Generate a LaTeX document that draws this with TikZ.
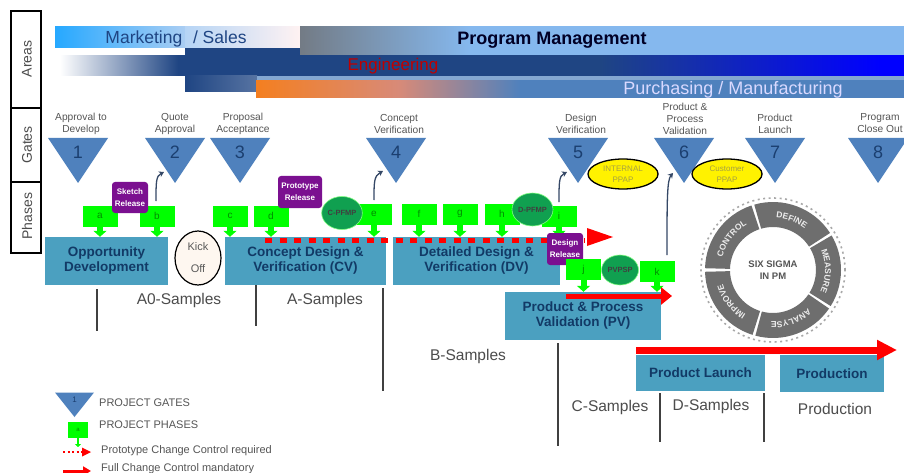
\documentclass[tikz,border=0pt]{standalone}
\usepackage{fontspec}
\setmainfont{Liberation Sans}
\usetikzlibrary{arrows.meta,shapes.geometric,decorations.text}
\definecolor{gatefill}{HTML}{4F81BD}
\definecolor{phasefill}{HTML}{4BA0C0}
\definecolor{gtxt}{HTML}{555555}
\definecolor{navy}{HTML}{1F4583}
\definecolor{ringgray}{HTML}{6E6E6E}
\definecolor{darknum}{HTML}{1B3F70}
\definecolor{pmblue}{HTML}{85B8EE}
\definecolor{pmgray}{HTML}{737B85}
\definecolor{ovalgreen}{HTML}{10A050}
\definecolor{purp}{HTML}{7B1090}
\definecolor{boxtext}{HTML}{123A66}
\definecolor{orangeA}{HTML}{F47F20}
\definecolor{orangeB}{HTML}{D88A78}
\definecolor{purewhite}{HTML}{FFFFFF}
\definecolor{pureblue}{HTML}{0000FF}
\pgfdeclarehorizontalshading{pmband}{100bp}{color(0bp)=(pmgray); color(25bp)=(pmgray); color(39bp)=(pmblue); color(100bp)=(pmblue)}
\pgfdeclarehorizontalshading{engband}{100bp}{color(0bp)=(purewhite); color(25bp)=(purewhite); color(32bp)=(navy); color(57bp)=(navy); color(73.6bp)=(pureblue); color(100bp)=(pureblue)}
\pgfdeclarehorizontalshading{purband}{100bp}{color(0bp)=(orangeA); color(25bp)=(orangeA); color(36bp)=(orangeB); color(45.4bp)=(gatefill); color(100bp)=(gatefill)}
\tikzset{
 gatenum/.style={font=\fontsize{18}{18}\selectfont,text=darknum,inner sep=0pt},
 gatelabel/.style={font=\fontsize{10.2}{12}\selectfont,text=gtxt,align=center,inner sep=0pt},
 phasebox/.style={fill=green,minimum width=35pt,minimum height=21pt,inner sep=0pt,font=\fontsize{10}{10}\selectfont,text=black!45!green},
 bluebox/.style={fill=phasefill,inner sep=0pt,align=center,font=\bfseries\fontsize{13.5}{15}\selectfont,text=boxtext},
 purplebox/.style={fill=purp,rounded corners=3pt,inner sep=0pt,align=center,text=white,font=\bfseries\fontsize{8}{12}\selectfont},
 greenoval/.style={ellipse,fill=ovalgreen,draw=green!50!white,line width=.6pt,inner sep=0pt,font=\bfseries\fontsize{7.5}{7.5}\selectfont,text=black!75},
 yellowoval/.style={ellipse,fill=yellow,draw=black,line width=1.3pt,inner sep=0pt,align=center,minimum width=70pt,minimum height=30pt,text=black!40!yellow,font=\fontsize{8}{11}\selectfont},
 samplabel/.style={font=\fontsize{15.5}{15.5}\selectfont,text=black!70,inner sep=0pt},
 phasedrop/.style={-{Triangle[length=6pt,width=13pt]},green,line width=6pt},
 vline/.style={black!75,line width=1.6pt},
 curvearrow/.style={-{Stealth[length=5pt,width=6pt]},draw=black!30!navy!70!gray,line width=1.3pt},
 redsolid/.style={-{Triangle[length=11pt,width=17pt]},red,line width=5pt},
 reddots/.style={red,line width=5pt,dash pattern=on 7pt off 7.5pt},
 legendtext/.style={font=\fontsize{11}{11}\selectfont,text=gtxt,anchor=west,inner sep=0pt},
 sidecell/.style={draw=black,line width=1.2pt,fill=white},
 sidetext/.style={rotate=90,font=\fontsize{14}{14}\selectfont,text=black!70,inner sep=0pt},
 ringfill/.style={fill=ringgray,draw=none},
}
\newcommand{\ringtext}[3]{\path[postaction={decorate,decoration={text along path,text align=center,text={|\bfseries\fontsize{8.5}{8.5}\selectfont\color{white!85!gray}|#3}}}]
 (#1:52pt) arc[start angle=#1,end angle=#2,radius=52pt];}
\newcommand{\ringseg}[2]{\fill[ringfill] (#1:68pt) arc[start angle=#1,end angle=#2,radius=68pt] -- (#2:43pt) arc[start angle=#2,end angle=#1,radius=43pt] -- cycle;}
\begin{document}
\begin{tikzpicture}[x=1pt,y=-1pt]
\useasboundingbox[fill=white] (0,0) rectangle (904,473);
% Side column
\draw[sidecell] (11,11) rectangle (41,108);
\draw[sidecell] (11,108) rectangle (41,182);
\draw[sidecell] (11,182) rectangle (41,253);
\node[sidetext] (areas) at (27,59) {Areas};
\node[sidetext] (gates) at (27,145) {Gates};
\node[sidetext] (phases) at (27,216) {Phases};
% Bars
\shade[shading=engband] (60,56) rectangle (904,76);
\fill[navy] (185,48) rectangle (300,56.5);
\shade[left color=navy,right color=navy!75!white] (185,76) rectangle (257,92);
\fill[gatefill!70!white] (257,76) rectangle (904,81);
\shade[shading=purband] (256,81) rectangle (904,98);
\shade[left color=cyan!60!blue!85!white,right color=pmblue!70!white] (55,27) rectangle (185,48);
\shade[left color=pmblue!60!white,right color=red!5!white] (185,27) rectangle (300,48);
\shade[shading=pmband] (300,27) rectangle (904,55);
\node[font=\fontsize{17.5}{17.5}\selectfont,text=navy,inner sep=0pt] (sales) at (176,39) {Marketing\,\, / Sales};
\node[font=\bfseries\fontsize{18}{18}\selectfont,text=black!85!blue,inner sep=0pt] (pm) at (552,40) {Program Management};
\node[font=\fontsize{17}{17}\selectfont,text=red!75!black,inner sep=0pt] (eng) at (393,66) {Engineering};
\node[font=\fontsize{18}{18}\selectfont,text=white!85!blue,inner sep=0pt] (pm2) at (733,90) {Purchasing / Manufacturing};
% Gates
\foreach \n/\x in {1/78,2/175,3/240,4/396,5/578,6/684,7/775,8/878}{
 \fill[gatefill] (\x-30,138) -- (\x+30,138) -- (\x,183) -- cycle;
 \node[gatenum] (g\n) at (\x,152) {\n};
}
\node[gatelabel] (gl1) at (81,123.5) {Approval to\\Develop};
\node[gatelabel] (gl2) at (175,123.5) {Quote\\Approval};
\node[gatelabel] (gl3) at (243,123.5) {Proposal\\Acceptance};
\node[gatelabel] (gl4) at (399,123.5) {Concept\\Verification};
\node[gatelabel] (gl5) at (581,123.5) {Design\\Verification};
\node[gatelabel] (gl6) at (685,119) {Product \&\\Process\\Validation};
\node[gatelabel] (gl7) at (775,123.5) {Product\\Launch};
\node[gatelabel] (gl8) at (880,123.5) {Program\\Close Out};
% Blue phase boxes
\node[bluebox,minimum width=123pt,minimum height=48pt] (opp) at (106.5,261) {Opportunity\\Development};
\node[bluebox,minimum width=161pt,minimum height=48pt] (cv) at (305.5,261) {Concept Design \&\\Verification (CV)};
\node[bluebox,minimum width=167pt,minimum height=48pt] (dv) at (476.5,261) {Detailed Design \&\\Verification (DV)};
\node[bluebox,minimum width=156pt,minimum height=48pt] (pv) at (583,316) {Product \& Process\\Validation (PV)};
\node[bluebox,minimum width=129pt,minimum height=36pt] (pl) at (700.5,373) {Product Launch};
\node[bluebox,minimum width=104pt,minimum height=37pt] (prod) at (832,373.5) {Production};
% Green phase boxes
\foreach \n/\x/\y/\t in {a/100/216/opp,b/157/216/opp,c/230/216/cv,d/271/216/cv,e/374/214/cv,f/419/214/dv,g/460/214/dv,h/502/214/dv,i/559/216/dv}{
 \node[phasebox] (p\n) at (\x,\y) {\n};
 \draw[phasedrop] (p\n.south) -- (p\n.south |- \t.north);
}
% Red dotted arrow
\draw[reddots] (265,240) -- (585,240);
\coordinate (dotend) at (587,237);
\coordinate (dottip) at (613,237);
\draw[red,line width=0pt,-{Triangle[length=26pt,width=18pt]}] (dotend) -- (dottip);
% Purple
\node[purplebox,minimum width=36pt,minimum height=31pt] (sk) at (130,197.5) {Sketch\\Release};
\node[purplebox,minimum width=44pt,minimum height=32pt] (pr) at (300,192) {Prototype\\Release};
\node[purplebox,minimum width=36pt,minimum height=32pt] (de) at (565,249) {Design\\Release};
% Phases j and k, over the release box
\foreach \n/\x/\y/\t in {j/583.5/269.5/pv,k/657/271.5/pv}{
 \node[phasebox] (p\n) at (\x,\y) {\n};
 \draw[phasedrop] (p\n.south) -- (p\n.south |- \t.north);
}
\coordinate (r1a) at (566,296);
\coordinate (r1b) at (672,296);
\draw[redsolid] (r1a) -- (r1b);
\coordinate (r2a) at (636,350);
\coordinate (r2b) at (897,350);
\draw[red,line width=7pt,-{Triangle[length=20pt,width=19pt]}] (r2a) -- (r2b);
% Green ovals
\node[greenoval,minimum width=40pt,minimum height=33pt] (o1) at (342,213) {C-PFMP};
\node[greenoval,minimum width=41pt,minimum height=33pt] (o2) at (532.5,209.5) {D-PFMP};
\node[greenoval,minimum width=37pt,minimum height=30pt] (o3) at (620,270) {PVPSP};
% Yellow ovals
\node[yellowoval] (y1) at (623,174) {INTERNAL\\PPAP};
\node[yellowoval] (y2) at (727,174) {Customer\\PPAP};
% Kick off
\node[ellipse,draw=black,line width=1.2pt,fill=black!8!orange!6!white,minimum width=46pt,minimum height=54pt,inner sep=0pt,align=center,text=black!65,font=\fontsize{11}{22}\selectfont] (kick) at (198,258) {Kick\\Off};
% Curved arrows
\coordinate (cb) at (156,201);
\coordinate (ce) at (374,200);
\coordinate (ci) at (559,202);
\coordinate (ck) at (667,255);
\draw[curvearrow] (cb) .. controls (156,182) and (156,176) .. (164,172);
\draw[curvearrow] (ce) .. controls (374,182) and (374,176) .. (383,171);
\draw[curvearrow] (ci) .. controls (559,182) and (559,176) .. (567,172);
\draw[curvearrow] (ck) .. controls (667,200) and (667,180) .. (673,173);
% Vertical lines
\foreach \n/\x/\a/\b in {1/97/289/331,2/256/285/326,3/383/288/391,4/558/343/446,5/660/393/442,6/764/393/442}{
 \coordinate (va\n) at (\x,\a);
 \coordinate (vb\n) at (\x,\b);
 \draw[vline] (va\n) -- (vb\n);
}
% Sample labels
\node[samplabel] (s0) at (179,300) {A0-Samples};
\node[samplabel] (s1) at (325,300) {A-Samples};
\node[samplabel] (s2) at (468,356) {B-Samples};
\node[samplabel] (s3) at (610,407) {C-Samples};
\node[samplabel] (s4) at (711,406) {D-Samples};
\node[samplabel] (s5) at (835,409) {Production};
% Six sigma ring
\begin{scope}[shift={(773,270)}]
\draw[ringgray!60,line width=1.6pt,dash pattern=on 2pt off 3.5pt] (0,0) circle[radius=72pt];
\ringseg{106}{33}
\ringseg{30.5}{-32}
\ringseg{-34.5}{-105}
\ringseg{-107.5}{-178.5}
\ringseg{178.5}{108.5}
\ringtext{106}{33}{DEFINE}
\ringtext{30}{-32}{MEASURE}
\ringtext{-35}{-105}{ANALYSE}
\ringtext{-108}{-178}{IMPROVE}
\ringtext{178}{108}{CONTROL}
\node[font=\bfseries\fontsize{9.5}{12.5}\selectfont,text=gtxt,align=center,inner sep=0pt] (ss) at (0,0) {SIX SIGMA\\IN PM};
\end{scope}
% Legend
\fill[gatefill] (55,392.5) -- (94,392.5) -- (74.5,417) -- cycle;
\node[font=\fontsize{8}{8}\selectfont,text=darknum,inner sep=0pt] (l1) at (74.5,400) {1};
\node[fill=green,minimum width=20pt,minimum height=16pt,inner sep=0pt,font=\fontsize{6}{6}\selectfont,text=black!45!green] (l2) at (78,430) {a};
\coordinate (l2b) at (78,447);
\draw[green,line width=2pt,-{Triangle[length=3pt,width=6pt]}] (l2.south) -- (l2b);
\node[legendtext] (t1) at (99,403) {PROJECT GATES};
\node[legendtext] (t2) at (99,425) {PROJECT PHASES};
\node[legendtext] (t3) at (101,451) {Prototype Change Control required};
\node[legendtext] (t4) at (101,469) {Full Change Control mandatory};
\coordinate (l3a) at (63,452);
\coordinate (l3b) at (82,452);
\coordinate (l3c) at (91,452);
\draw[red,line width=2pt,dash pattern=on 2pt off 2.5pt] (l3a) -- (l3b);
\draw[red,line width=0pt,-{Triangle[length=9pt,width=9pt]}] (l3b) -- (l3c);
\coordinate (l4a) at (63,471);
\coordinate (l4b) at (91,471);
\draw[red,line width=3pt,-{Triangle[length=8pt,width=9pt]}] (l4a) -- (l4b);
\end{tikzpicture}
\end{document}
